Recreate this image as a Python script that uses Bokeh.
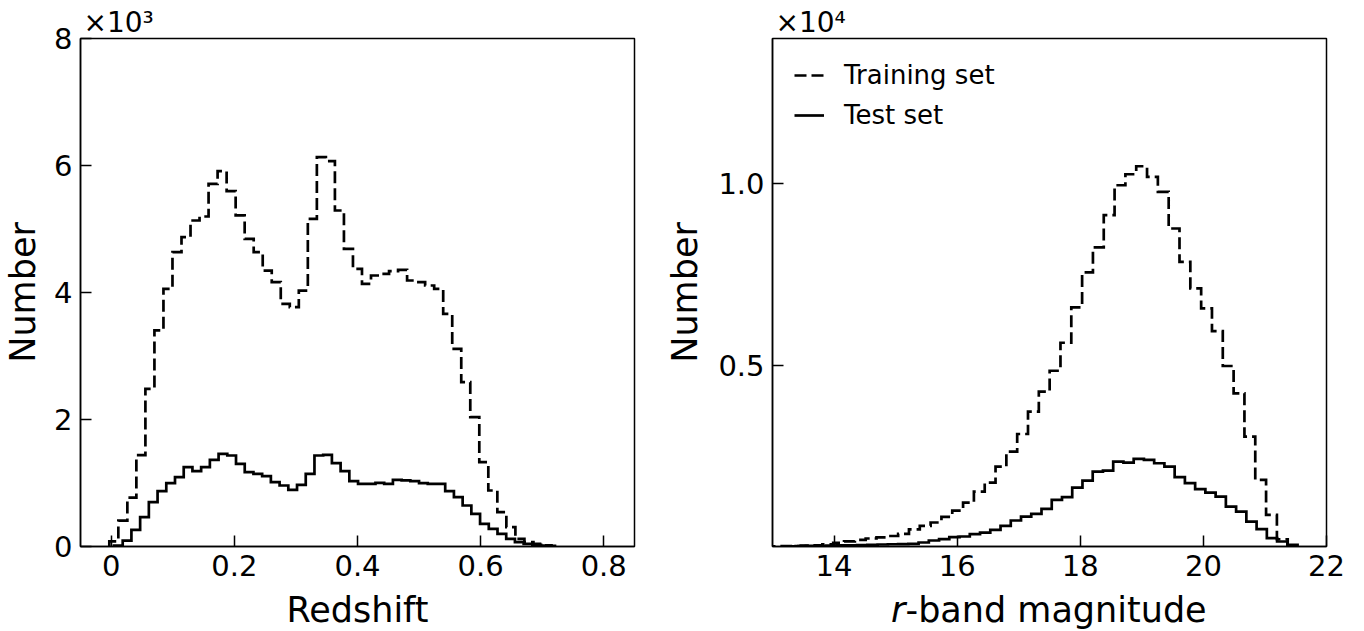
import numpy as np
from bokeh.plotting import figure
from bokeh.layouts import row, column
from bokeh.models import (Range1d, FixedTicker, CustomJSTickFormatter,
                          Legend, LegendItem, Title)
from bokeh.core.properties import value
from bokeh.embed import file_html
from bokeh.resources import INLINE

FONT = "DejaVu Sans"

# ---------------- data (50-bin histograms) ----------------
redshift_train_start = -0.0032
redshift_train_width = 0.01466
redshift_train_counts = [80, 409, 770, 1440, 2483, 3402, 4058, 4635, 4871, 5134,
                         5197, 5711, 5911, 5596, 5213, 4845, 4635, 4346, 4163, 3822,
                         3769, 4031, 5160, 6131, 6068, 5291, 4688, 4373, 4137, 4268,
                         4294, 4336, 4357, 4189, 4163, 4110, 4058, 3664, 3113, 2588,
                         2037, 1328, 882, 541, 304, 121, 68, 42, 20, 10]

redshift_test_start = 0.0044
redshift_test_width = 0.01416
redshift_test_counts = [16, 94, 262, 462, 698, 871, 997, 1092, 1249, 1186,
                        1249, 1365, 1459, 1433, 1302, 1171, 1144, 1108, 1013, 961,
                        892, 971, 1144, 1433, 1444, 1312, 1186, 1029, 987, 987,
                        1003, 987, 1050, 1040, 1029, 997, 987, 987, 871, 777,
                        646, 514, 357, 278, 199, 121, 68, 42, 26, 15]

rmag_train_start = 12.58
rmag_train_width = 0.1758
rmag_train_counts = [2, 3, 5, 8, 14, 22, 35, 60, 100, 140,
                     180, 220, 250, 290, 349, 470, 569, 661, 815, 991,
                     1211, 1514, 1760, 2200, 2615, 3100, 3716, 4266, 4844, 5615,
                     6590, 7553, 8241, 9130, 9956, 10259, 10479, 10184, 9771, 8764,
                     7845, 7112, 6562, 5937, 4974, 4222, 3028, 1836, 872, 200]

rmag_test_start = 13.21
rmag_test_width = 0.1664
rmag_test_counts = [5, 10, 15, 20, 25, 30, 35, 42, 48, 55,
                    62, 68, 74, 110, 165, 202, 257, 275, 340, 385,
                    459, 569, 716, 826, 900, 1037, 1285, 1358, 1624, 1817,
                    2064, 2092, 2340, 2312, 2414, 2386, 2294, 2202, 1910, 1745,
                    1580, 1487, 1376, 1101, 963, 688, 479, 231, 138, 46]

redshift_xticks = [0, 0.2, 0.4, 0.6, 0.8]
redshift_yticks = [0, 2000, 4000, 6000, 8000]
rmag_xticks = [14, 16, 18, 20, 22]
rmag_yticks = [5000, 10000]

legend_labels = ["Training set", "Test set"]
scale_texts = ["×10³", "×10⁴"]
redshift_xlabel = "Redshift"
rmag_xlabel_parts = ("r", "-band magnitude")
ylabel = "Number"


def step_xy(start, width, counts):
    counts = np.asarray(counts, dtype=float)
    edges = start + width * np.arange(len(counts) + 1)
    xs = np.repeat(edges, 2)
    ys = np.concatenate([[0.0], np.repeat(counts, 2), [0.0]])
    return xs, ys


FW, FH = 554, 508
TOP = 38
P_BOTTOM = 42
STRIP = 631 - TOP - FH - P_BOTTOM
LABEL_Y = STRIP - 21          # vertical middle of the x-axis title inside its strip


def make_fig(x_range, y_range, left, right, scale_text):
    p = figure(frame_width=FW, frame_height=FH, x_range=x_range, y_range=y_range,
               output_backend="svg", toolbar_location=None,
               min_border_left=left, min_border_right=right,
               min_border_top=TOP, min_border_bottom=P_BOTTOM)
    p.grid.visible = False
    p.background_fill_color = "white"
    p.border_fill_color = "white"
    p.outline_line_color = "black"
    p.outline_line_width = 1.5
    for ax in (p.xaxis[0], p.yaxis[0]):
        ax.major_tick_in = 11
        ax.major_tick_out = 0
        ax.minor_tick_line_color = None
        ax.major_tick_line_width = 1.5
        ax.major_tick_line_color = "black"
        ax.axis_line_width = 1.5
        ax.axis_line_color = "black"
        ax.major_label_text_font = FONT
        ax.major_label_text_font_size = "29px"
        ax.major_label_text_color = "black"
        ax.axis_label_text_font = FONT
        ax.axis_label_text_font_size = "35px"
        ax.axis_label_text_font_style = "normal"
        ax.axis_label_text_color = "black"
        ax.major_label_standoff = 8
    p.add_layout(Title(text=scale_text, align="left", offset=3, standoff=0,
                       text_font=FONT, text_font_size="28px",
                       text_font_style="normal", text_color="black"), "above")
    return p


def make_strip(x_range, left, right):
    s = figure(frame_width=FW, frame_height=STRIP, x_range=x_range,
               y_range=Range1d(0, STRIP), output_backend="svg",
               toolbar_location=None, x_axis_location=None, y_axis_location=None,
               min_border_left=left, min_border_right=right,
               min_border_top=0, min_border_bottom=0)
    s.grid.visible = False
    s.outline_line_color = None
    s.background_fill_color = "white"
    s.border_fill_color = "white"
    return s


LW = 2.7
DASH = "12 5"

# ---------------- left: redshift ----------------
xr1 = Range1d(-0.05, 0.85)
p1 = make_fig(xr1, Range1d(0, 8000), 78, 22, scale_texts[0])
xs, ys = step_xy(redshift_train_start, redshift_train_width, redshift_train_counts)
p1.line(xs, ys, line_color="black", line_width=LW, line_dash=DASH, line_join="miter")
xs, ys = step_xy(redshift_test_start, redshift_test_width, redshift_test_counts)
p1.line(xs, ys, line_color="black", line_width=LW, line_join="miter")

p1.xaxis.ticker = FixedTicker(ticks=redshift_xticks)
p1.xaxis.formatter = CustomJSTickFormatter(code="return tick == 0 ? '0' : tick.toFixed(1);")
p1.yaxis.ticker = FixedTicker(ticks=redshift_yticks)
p1.yaxis.formatter = CustomJSTickFormatter(code="return (tick/1000).toFixed(0);")
p1.yaxis.axis_label = ylabel
p1.yaxis.axis_label_standoff = 8

b1 = make_strip(xr1, 78, 22)
b1.text(x=[0.5 * (xr1.start + xr1.end)], y=[LABEL_Y], text=[redshift_xlabel],
        text_font=value(FONT), text_font_size=value("35px"),
        text_baseline=value("middle"), text_align=value("center"),
        text_color="black")

# ---------------- right: r-band magnitude ----------------
xr2 = Range1d(13, 22)
p2 = make_fig(xr2, Range1d(0, 14000), 116, 40, scale_texts[1])
xs, ys = step_xy(rmag_train_start, rmag_train_width, rmag_train_counts)
r_train = p2.line(xs, ys, line_color="black", line_width=LW, line_dash=DASH, line_join="miter")
xs, ys = step_xy(rmag_test_start, rmag_test_width, rmag_test_counts)
r_test = p2.line(xs, ys, line_color="black", line_width=LW, line_join="miter")

p2.xaxis.ticker = FixedTicker(ticks=rmag_xticks)
p2.xaxis.formatter = CustomJSTickFormatter(code="return tick.toFixed(0);")
p2.yaxis.ticker = FixedTicker(ticks=rmag_yticks)
p2.yaxis.formatter = CustomJSTickFormatter(code="return (tick/10000).toFixed(1);")
p2.yaxis.axis_label = ylabel
p2.yaxis.axis_label_standoff = 10

legend = Legend(items=[LegendItem(label=legend_labels[0], renderers=[r_train]),
                       LegendItem(label=legend_labels[1], renderers=[r_test])],
                location="top_left", margin=10, padding=12, spacing=10,
                glyph_width=30, glyph_height=30, label_standoff=20,
                label_text_font=FONT, label_text_font_size="26px",
                label_text_color="black",
                border_line_alpha=0, background_fill_alpha=0)
p2.add_layout(legend)

# x-axis title with an italic "r"
b2 = make_strip(xr2, 116, 40)
xmid = 0.5 * (xr2.start + xr2.end)
b2.text(x=[xmid], y=[LABEL_Y], text=[rmag_xlabel_parts[0]], x_offset=-144,
        text_font=value(FONT), text_font_size=value("35px"),
        text_font_style=value("italic"), text_baseline=value("middle"),
        text_align=value("right"), text_color="black")
b2.text(x=[xmid], y=[LABEL_Y], text=[rmag_xlabel_parts[1]], x_offset=-144,
        text_font=value(FONT), text_font_size=value("35px"),
        text_baseline=value("middle"), text_align=value("left"),
        text_color="black")

layout = row(column(p1, b1), column(p2, b2))
open("out.html", "w").write(file_html(layout, INLINE))
